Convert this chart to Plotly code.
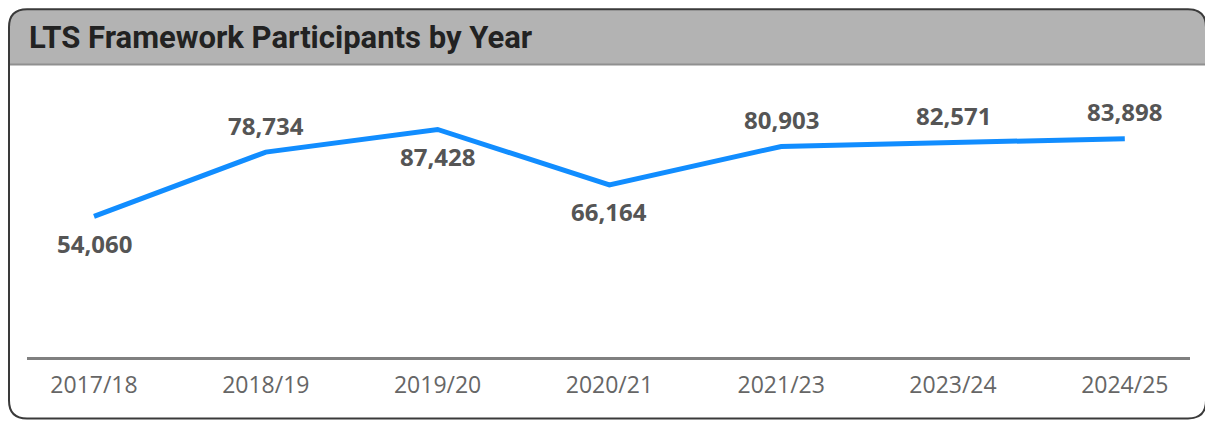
import plotly.graph_objects as go

years = ["2017/18", "2018/19", "2019/20", "2020/21", "2021/23", "2023/24", "2024/25"]
participants = [54060, 78734, 87428, 66164, 80903, 82571, 83898]
label_pos = ["below", "above", "below", "below", "above", "above", "above"]

# page body has an 8px margin; work in page pixel coordinates and convert
OFF = 8
W, H = 1213 - OFF, 423 - OFF
L, R, T, B = 27, 1190, 80, 357.5  # plot area in page pixels
X0, XSTEP = 94, 171.8
YSCALE = 0.002607  # px per participant

def px(x):
    return (x - L) / (R - L)

def py(y):
    return (B - y) / (B - T)

def rounded_path(x0, y0, x1, y1, r, top_only=False):
    if top_only:
        p = f"M {px(x0)},{py(y1)} L {px(x0)},{py(y0 + r)} "
        p += f"Q {px(x0)},{py(y0)} {px(x0 + r)},{py(y0)} "
        p += f"L {px(x1 - r)},{py(y0)} Q {px(x1)},{py(y0)} {px(x1)},{py(y0 + r)} "
        p += f"L {px(x1)},{py(y1)} Z"
        return p
    p = f"M {px(x0 + r)},{py(y0)} L {px(x1 - r)},{py(y0)} "
    p += f"Q {px(x1)},{py(y0)} {px(x1)},{py(y0 + r)} "
    p += f"L {px(x1)},{py(y1 - r)} Q {px(x1)},{py(y1)} {px(x1 - r)},{py(y1)} "
    p += f"L {px(x0 + r)},{py(y1)} Q {px(x0)},{py(y1)} {px(x0)},{py(y1 - r)} "
    p += f"L {px(x0)},{py(y0 + r)} Q {px(x0)},{py(y0)} {px(x0 + r)},{py(y0)} Z"
    return p

xi = list(range(len(years)))

fig = go.Figure()
fig.add_trace(go.Scatter(
    x=xi, y=participants, mode="lines",
    line=dict(color="#118DFF", width=5),
    hoverinfo="skip", showlegend=False,
))

annotations = []
for i, v, pos in zip(xi, participants, label_pos):
    annotations.append(dict(
        x=i, y=v, xref="x", yref="y", text=f"<b>{v:,}</b>", showarrow=False,
        yshift=27 if pos == "above" else -27,
        font=dict(family="Open Sans", size=24, color="#555555"),
    ))
annotations.append(dict(
    x=px(27), y=py(37), xref="paper", yref="paper", xanchor="left", yanchor="middle",
    text="<b>LTS Framework Participants by Year</b>", showarrow=False,
    font=dict(family="Roboto", size=31, color="#222222"),
))

shapes = [
    dict(type="path", xref="paper", yref="paper", path=rounded_path(9, 9, 1206, 65, 18, top_only=True),
         fillcolor="#B3B3B3", line=dict(width=0), layer="below"),
    dict(type="line", xref="paper", yref="paper", x0=px(9), x1=px(1206), y0=py(64.5), y1=py(64.5),
         line=dict(color="#909090", width=2)),
    dict(type="path", xref="paper", yref="paper", path=rounded_path(9, 9, 1206, 419, 18),
         line=dict(color="#3A3A3A", width=2), fillcolor="rgba(0,0,0,0)"),
]

fig.update_layout(
    width=W, height=H,
    margin=dict(l=L - OFF, r=(W + OFF) - R, t=T - OFF, b=(H + OFF) - B),
    paper_bgcolor="white", plot_bgcolor="white",
    annotations=annotations, shapes=shapes,
    xaxis=dict(
        range=[(L - X0) / XSTEP, 6 + (R - (X0 + 6 * XSTEP)) / XSTEP],
        tickmode="array", tickvals=xi, ticktext=years,
        showgrid=False, zeroline=False, showline=True, linecolor="#808080", linewidth=3,
        tickfont=dict(family="Open Sans", size=23, color="#666666"),
        ticklabelstandoff=5, fixedrange=True,
    ),
    yaxis=dict(range=[0, (B - T) / YSCALE], visible=False, fixedrange=True),
)

fig.write_html("out.html")
